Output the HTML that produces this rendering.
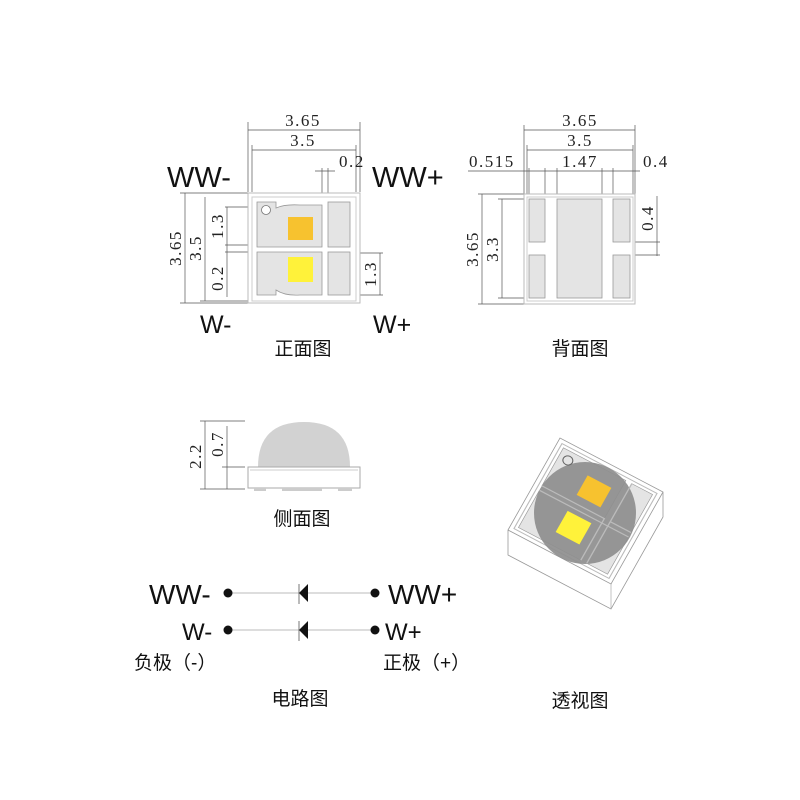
<!DOCTYPE html>
<html><head><meta charset="utf-8"><style>
html,body{margin:0;padding:0;background:#fff;}
svg{display:block;}
.s{font-family:"Liberation Serif",serif;font-size:17px;fill:#222;letter-spacing:1.5px;}
.a{font-family:"Liberation Sans",sans-serif;fill:#111;}
.c{font-family:"Liberation Sans","Noto Sans CJK SC",sans-serif;fill:#111;font-size:19px;}
</style></head><body>
<svg width="800" height="800" viewBox="0 0 800 800" xmlns="http://www.w3.org/2000/svg">
<g stroke="#555" stroke-width="0.7" fill="none">
<line x1="248" y1="130" x2="360" y2="130"/><line x1="248" y1="122" x2="248" y2="192"/><line x1="360" y1="122" x2="360" y2="192"/>
<line x1="252" y1="150" x2="356" y2="150"/><line x1="252" y1="145" x2="252" y2="192"/><line x1="356" y1="145" x2="356" y2="192"/>
<line x1="315" y1="171" x2="335" y2="171"/><line x1="322" y1="168" x2="322" y2="215"/><line x1="328" y1="168" x2="328" y2="215"/>
<line x1="185" y1="193" x2="185" y2="303"/><line x1="180" y1="193" x2="248" y2="193"/><line x1="180" y1="303" x2="248" y2="303"/>
<line x1="205" y1="197" x2="205" y2="301"/><line x1="200" y1="301" x2="250" y2="301"/>
<line x1="227" y1="207" x2="227" y2="297"/><line x1="225" y1="207" x2="288" y2="207"/><line x1="225" y1="245" x2="288" y2="245"/><line x1="225" y1="252" x2="250" y2="252"/>
<line x1="380" y1="253" x2="380" y2="295"/><line x1="350" y1="253" x2="383" y2="253"/><line x1="320" y1="295" x2="383" y2="295"/>
<line x1="524" y1="130" x2="635" y2="130"/><line x1="524" y1="125" x2="524" y2="194"/><line x1="635" y1="125" x2="635" y2="194"/>
<line x1="527" y1="150" x2="633" y2="150"/><line x1="527" y1="145" x2="527" y2="197"/><line x1="633" y1="145" x2="633" y2="197"/>
<line x1="468" y1="171" x2="640" y2="171"/>
<line x1="529" y1="168" x2="529" y2="199"/><line x1="545" y1="168" x2="545" y2="199"/><line x1="557" y1="168" x2="557" y2="199"/><line x1="602" y1="168" x2="602" y2="199"/><line x1="613" y1="168" x2="613" y2="199"/>
<line x1="482" y1="194" x2="482" y2="304"/><line x1="478" y1="194" x2="524" y2="194"/><line x1="478" y1="304" x2="524" y2="304"/>
<line x1="502" y1="199" x2="502" y2="298"/><line x1="498" y1="199" x2="529" y2="199"/><line x1="498" y1="298" x2="529" y2="298"/>
<line x1="657" y1="196" x2="657" y2="256"/><line x1="633" y1="242" x2="660" y2="242"/><line x1="633" y1="255" x2="660" y2="255"/>
<line x1="205" y1="421" x2="205" y2="489"/><line x1="200" y1="421" x2="245" y2="421"/><line x1="200" y1="489" x2="245" y2="489"/>
<line x1="227" y1="426" x2="227" y2="489"/><line x1="222" y1="467" x2="245" y2="467"/>
</g>
<rect x="248" y="193" width="112" height="110" fill="#fff" stroke="#bbb" stroke-width="1"/>
<rect x="252" y="197" width="104" height="104" fill="#fff" stroke="#ccc" stroke-width="1"/>
<path d="M257 202 H276 V208 Q285 204 300 205 H322 V247 H257 Z" fill="#e4e4e4" stroke="#999" stroke-width="0.8"/>
<rect x="328" y="202" width="22" height="45" fill="#e4e4e4" stroke="#999" stroke-width="0.8"/>
<path d="M257 252 H322 V295 H300 Q285 296 276 290 V295 H257 Z" fill="#e4e4e4" stroke="#999" stroke-width="0.8"/>
<rect x="328" y="252" width="22" height="43" fill="#e4e4e4" stroke="#999" stroke-width="0.8"/>
<circle cx="266" cy="210" r="4.5" fill="#fff" stroke="#777" stroke-width="0.8"/>
<rect x="288" y="217" width="25" height="23" fill="#f7c22f"/>
<rect x="288" y="257" width="25" height="25" fill="#fff23a"/>
<text class="s" x="303" y="126" text-anchor="middle">3.65</text>
<text class="s" x="303" y="146" text-anchor="middle">3.5</text>
<text class="s" x="339" y="167">0.2</text>
<text class="s" transform="translate(181,248) rotate(-90)" text-anchor="middle">3.65</text>
<text class="s" transform="translate(201,248) rotate(-90)" text-anchor="middle">3.5</text>
<text class="s" transform="translate(223,226) rotate(-90)" text-anchor="middle">1.3</text>
<text class="s" transform="translate(223,278) rotate(-90)" text-anchor="middle">0.2</text>
<text class="s" transform="translate(376,274) rotate(-90)" text-anchor="middle">1.3</text>
<text class="a" x="167" y="187" font-size="29">WW-</text>
<text class="a" x="372" y="187" font-size="29">WW+</text>
<text class="a" x="200" y="333" font-size="25">W-</text>
<text class="a" x="373" y="333" font-size="25">W+</text>
<text class="c" x="303" y="355" text-anchor="middle">正面图</text>
<rect x="524" y="194" width="111" height="110" fill="#fff" stroke="#bbb"/>
<rect x="527" y="197" width="106" height="104" fill="#fff" stroke="#ccc"/>
<rect x="529" y="199" width="16" height="43" fill="#e4e4e4" stroke="#999" stroke-width="0.8"/>
<rect x="529" y="255" width="16" height="43" fill="#e4e4e4" stroke="#999" stroke-width="0.8"/>
<rect x="557" y="199" width="45" height="99" fill="#e4e4e4" stroke="#999" stroke-width="0.8"/>
<rect x="613" y="199" width="17" height="43" fill="#e4e4e4" stroke="#999" stroke-width="0.8"/>
<rect x="613" y="255" width="17" height="43" fill="#e4e4e4" stroke="#999" stroke-width="0.8"/>
<text class="s" x="580" y="126" text-anchor="middle">3.65</text>
<text class="s" x="580" y="146" text-anchor="middle">3.5</text>
<text class="s" x="469" y="167">0.515</text>
<text class="s" x="580" y="167" text-anchor="middle">1.47</text>
<text class="s" x="643" y="167">0.4</text>
<text class="s" transform="translate(478,249) rotate(-90)" text-anchor="middle">3.65</text>
<text class="s" transform="translate(498,249) rotate(-90)" text-anchor="middle">3.3</text>
<text class="s" transform="translate(653,218) rotate(-90)" text-anchor="middle">0.4</text>
<text class="c" x="580" y="355" text-anchor="middle">背面图</text>
<path d="M258 467 Q258 422 304 422 Q350 422 350 467 Z" fill="#d2d2d2"/>
<rect x="248" y="467" width="112" height="21" fill="#fff" stroke="#aaa"/>
<line x1="250" y1="470" x2="358" y2="470" stroke="#ccc"/>
<rect x="254" y="488" width="12" height="3" fill="#ccc"/><rect x="282" y="488" width="40" height="3" fill="#ccc"/><rect x="338" y="488" width="14" height="3" fill="#ccc"/>
<text class="s" transform="translate(201,456) rotate(-90)" text-anchor="middle">2.2</text>
<text class="s" transform="translate(223,444) rotate(-90)" text-anchor="middle">0.7</text>
<text class="c" x="302" y="525" text-anchor="middle">侧面图</text>
<!-- perspective -->
<path d="M508 530 L560 438 L663 492 L663 517 L611 609 L508 555 Z" fill="#fff" stroke="#999" stroke-width="0.8"/>
<path d="M508 530 L611 584 L663 492" fill="none" stroke="#999" stroke-width="0.8"/>
<line x1="611" y1="584" x2="611" y2="609" stroke="#aaa" stroke-width="0.7"/>
<g transform="matrix(0.99,0.519,-0.5,0.885,585.5,511)">
<rect x="-48" y="-48" width="96" height="96" fill="none" stroke="#bbb"/>
<rect x="-45" y="-45" width="63" height="43" fill="#e4e4e4" stroke="#999" stroke-width="0.6"/>
<rect x="24" y="-45" width="21" height="43" fill="#e4e4e4" stroke="#999" stroke-width="0.6"/>
<rect x="-45" y="3" width="63" height="42" fill="#e4e4e4" stroke="#999" stroke-width="0.6"/>
<rect x="24" y="3" width="21" height="42" fill="#e4e4e4" stroke="#999" stroke-width="0.6"/>
</g>
<circle cx="585" cy="513" r="51" fill="#8e8e8e" opacity="0.92"/>
<g transform="matrix(0.99,0.519,-0.5,0.885,585.5,511)">
<path d="M-45 -2 H18 V45 M-45 3 H45 M24 -2 H45 M24 -45 V45" stroke="#bbb" stroke-width="1.2" fill="none"/>
<circle cx="-36" cy="-36" r="4.5" fill="none" stroke="#666"/>
<rect x="-14" y="-32" width="24" height="22" fill="#f7c22f"/>
<rect x="-14" y="8" width="24" height="24" fill="#fff23a"/>
</g>
<text class="c" x="580" y="707" text-anchor="middle">透视图</text>
<g stroke="#bbb" stroke-width="1"><line x1="228" y1="593" x2="375" y2="593"/><line x1="228" y1="630" x2="375" y2="630"/></g>
<g fill="#111">
<circle cx="228" cy="593" r="4.5"/><circle cx="375" cy="593" r="4.5"/>
<circle cx="228" cy="630" r="4.5"/><circle cx="375" cy="630" r="4.5"/>
<path d="M299 593 L308 584 L308 602 Z"/><path d="M299 630 L308 621 L308 639 Z"/>
</g>
<g stroke="#555" stroke-width="0.8"><line x1="299" y1="584" x2="299" y2="604"/><line x1="299" y1="621" x2="299" y2="641"/></g>
<text class="a" x="149" y="604" font-size="28">WW-</text>
<text class="a" x="388" y="604" font-size="28">WW+</text>
<text class="a" x="182" y="640" font-size="24">W-</text>
<text class="a" x="385" y="640" font-size="24">W+</text>
<text class="c" x="134" y="669">负极（-）</text>
<text class="c" x="383" y="669">正极（+）</text>
<text class="c" x="300" y="705" text-anchor="middle">电路图</text>
</svg>
</body></html>
